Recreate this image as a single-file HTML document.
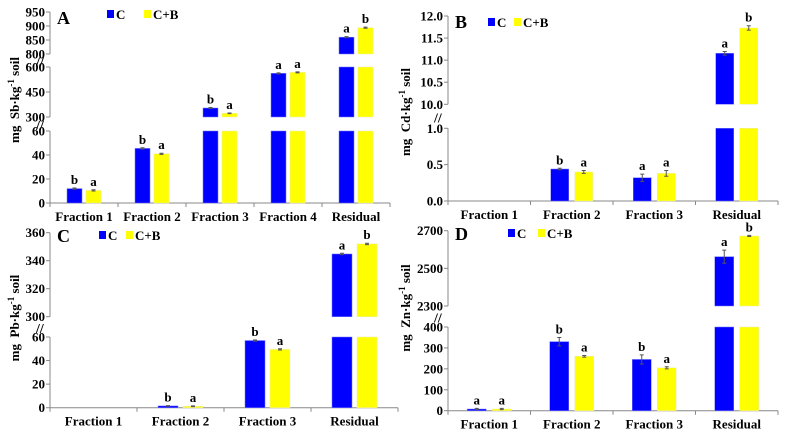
<!DOCTYPE html>
<html><head><meta charset="utf-8">
<style>
html,body{margin:0;padding:0;background:#fff;}
svg{display:block;}
svg text{font-family:"Liberation Serif","Times New Roman",serif;font-weight:bold;}
</style></head>
<body>
<svg id="chart" width="787" height="441" viewBox="0 0 787 441" xmlns="http://www.w3.org/2000/svg" font-family="Liberation Serif, serif" font-weight="bold"></svg>
<script>
// Panel A (Sb)
const catsA = ["Fraction 1","Fraction 2","Fraction 3","Fraction 4","Residual"];
const cA = [12, 45.5, 354, 562, 860];
const bA = [10.5, 41, 322, 568, 894];
const errCA = [0.5, 0.5, 3, 3, 2];
const errBA = [0.5, 0.5, 2, 3, 2];
const letCA = ["b","b","b","a","a"];
const letBA = ["a","a","a","a","b"];
const ticksA = [[0,20,40,60],[300,450,600],[800,850,900,950]];
// Panel B (Cd)
const catsB = ["Fraction 1","Fraction 2","Fraction 3","Residual"];
const cB = [null, 0.44, 0.32, 11.155];
const bB = [null, 0.40, 0.38, 11.73];
const errCB = [0, 0.01, 0.05, 0.04];
const errBB = [0, 0.02, 0.04, 0.05];
const letCB = ["","b","a","a"];
const letBB = ["","a","a","b"];
const ticksB = [[0.0,0.5,1.0],[10.0,10.5,11.0,11.5,12.0]];
// Panel C (Pb)
const catsC = ["Fraction 1","Fraction 2","Fraction 3","Residual"];
const cC = [null, 1.5, 57, 344.8];
const bC = [null, 1.2, 49.5, 352];
const errCC = [0, 0.3, 0.5, 0.5];
const errBC = [0, 0.3, 0.5, 0.5];
const letCC = ["","b","b","a"];
const letBC = ["","a","a","b"];
const ticksC = [[0,20,40,60],[300,320,340,360]];
// Panel D (Zn)
const catsD = ["Fraction 1","Fraction 2","Fraction 3","Residual"];
const cD = [8, 330, 245, 2562];
const bD = [8, 260, 205, 2672];
const errCD = [3, 20, 22, 35];
const errBD = [3, 4, 5, 3];
const letCD = ["a","b","b","a"];
const letBD = ["a","a","a","b"];
const ticksD = [[0,100,200,300,400],[2300,2500,2700]];

const NS="http://www.w3.org/2000/svg";
const svg=document.getElementById('chart');
function mk(tag,attrs,parent,text){const e=document.createElementNS(NS,tag);for(const k in attrs)e.setAttribute(k,attrs[k]);
  if(tag==='text'){e.setAttribute('font-family','Liberation Serif, serif');e.setAttribute('font-weight','bold');}
  if(text!==undefined)e.textContent=text;(parent||svg).appendChild(e);return e;}

function panel(cfg){
  const g=mk('g',{});
  
  
  const segs=cfg.segs;
  function segY(s,v){return s.y0-(v-s.min)/(s.max-s.min)*(s.y0-s.y1);}
  const axL=cfg.x0, axR=cfg.x1, n=cfg.cats.length, cw=(axR-axL)/n;
  const xa=mk('line',{x1:axL,y1:segs[0].y0,x2:axR,y2:segs[0].y0,stroke:'#888','stroke-width':1},g);
  
  
  for(let i=0;i<=n;i++){const t=mk('line',{x1:axL+i*cw,y1:segs[0].y0,x2:axL+i*cw,y2:segs[0].y0+4,stroke:'#888'},g);
    
    }
  segs.forEach((s,si)=>{
    const ya=mk('line',{x1:axL,y1:s.y0,x2:axL,y2:s.y1,stroke:'#888'},g);
    
    
    cfg.ticks[si].forEach(v=>{
      const y=segY(s,v);
      const tk=mk('line',{x1:axL-4,y1:y,x2:axL,y2:y,stroke:'#888'},g);
      
      
      const tl=mk('text',{x:axL-5,y:y+4.5,'text-anchor':'end','font-size':13,fill:'#000'},g,cfg.fmt?v.toFixed(1):String(v));
      
      
    });
    if(si>0){const by=(segs[si-1].y1+s.y0)/2;
      const br=mk('text',{x:axL-14,y:by+6,'font-size':14,fill:'#000'},g,'//');
      
      }
  });
  cfg.cats.forEach((c,i)=>{
    const cx=axL+cw*(i+0.5);
    const xl=mk('text',{x:cx,y:segs[0].y0+18,'text-anchor':'middle','font-size':13,fill:'#000'},g,c);
    
    
    [[cfg.c,cfg.ec,cfg.lc,'#0000ff',-cfg.off-cfg.bw],[cfg.b,cfg.eb,cfg.lb,'#ffff00',cfg.off]].forEach(([vals,errs,lets,col,dx],k)=>{
      const v=vals[i]; if(v===null) return;
      const x=cx+dx;
      let topY=null;
      segs.forEach(s=>{
        if(v<=s.min && s.min>0) return;
        const lo=Math.max(s.min,0), hi=Math.min(v,s.max);
        if(hi<=lo && s.min>0) return;
        const yt=segY(s,hi), yb=segY(s,Math.max(lo,s.min));
        const r=mk('rect',{x:x,y:yt,width:cfg.bw,height:Math.max(yb-yt,0.8),fill:col,stroke:k?'#eeeeaa':'#7777ff','stroke-width':0.5},g);
        
        
        if(v<=s.max) topY={s:s,y:yt};
      });
      if(!topY) return;
      const e=errs[i], s=topY.s;
      const eu=segY(s,v+e), ed=segY(s,v-e), ex=x+cfg.bw/2;
      const el=mk('path',{d:`M${ex},${eu}V${ed}M${ex-2},${eu}H${ex+2}M${ex-2},${ed}H${ex+2}`,stroke:'#555','stroke-width':1,fill:'none'},g);
      
      
      const lt=mk('text',{x:ex,y:eu-4,'text-anchor':'middle','font-size':13,fill:'#000'},g,lets[i]);
      
      
    });
  });
  const pl=mk('text',{x:cfg.letter[1],y:cfg.letter[2],'font-size':18,fill:'#000'},g,cfg.letter[0]);
  
  
  const lg=cfg.leg;
  const ls1=mk('rect',{x:lg[0],y:lg[2]-9,width:7,height:8,fill:'#0000ff'},g);
  
  
  const lt1=mk('text',{x:lg[0]+9,y:lg[2],'font-size':13,fill:'#000'},g,'C');
  
  
  const ls2=mk('rect',{x:lg[1],y:lg[2]-9,width:7,height:8,fill:'#ffff00'},g);
  
  
  const lt2=mk('text',{x:lg[1]+9,y:lg[2],'font-size':13,fill:'#000'},g,'C+B');
  
  
  const yl=mk('text',{x:0,y:0,transform:`translate(${cfg.ylab[0]},${cfg.ylab[1]}) rotate(-90)`,'text-anchor':'middle','font-size':13,fill:'#000'},g);
  
  
  yl.innerHTML=`mg&#160;&#160;${cfg.el}·kg<tspan dy="-5" font-size="9">-1</tspan><tspan dy="5"> soil</tspan>`;
}

panel({name:'panel-a-sb',cats:catsA,c:cA,b:bA,ec:errCA,eb:errBA,lc:letCA,lb:letBA,ticks:ticksA,
  x0:50,x1:390,bw:15,off:2,
  segs:[{min:0,max:60,y0:203,y1:131},{min:300,max:600,y0:117,y1:67},{min:800,max:950,y0:54,y1:12}],
  letter:['A',57,24],leg:[107,144,19],ylab:[19,100],el:'Sb'});
panel({name:'panel-b-cd',cats:catsB,c:cB,b:bB,ec:errCB,eb:errBB,lc:letCB,lb:letBB,ticks:ticksB,fmt:true,
  x0:448,x1:778,bw:18,off:3,
  segs:[{min:0,max:1,y0:201,y1:128.3},{min:10,max:12,y0:104.3,y1:16}],
  letter:['B',455,28],leg:[488,514,27],ylab:[410,112],el:'Cd'});
panel({name:'panel-c-pb',cats:catsC,c:cC,b:bC,ec:errCC,eb:errBC,lc:letCC,lb:letBC,ticks:ticksC,
  x0:50,x1:398,bw:20,off:2.5,
  segs:[{min:0,max:60,y0:407.7,y1:337},{min:300,max:360,y0:316.7,y1:232.7}],
  letter:['C',57,242],leg:[99,126,240],ylab:[19,318],el:'Pb'});
panel({name:'panel-d-zn',cats:catsD,c:cD,b:bD,ec:errCD,eb:errBD,lc:letCD,lb:letBD,ticks:ticksD,
  x0:448,x1:778,bw:19,off:3,
  segs:[{min:0,max:400,y0:410.7,y1:327},{min:2300,max:2700,y0:306,y1:230.7}],
  letter:['D',455,240],leg:[508,538,238],ylab:[410,308],el:'Zn'});
</script>
</body></html>
